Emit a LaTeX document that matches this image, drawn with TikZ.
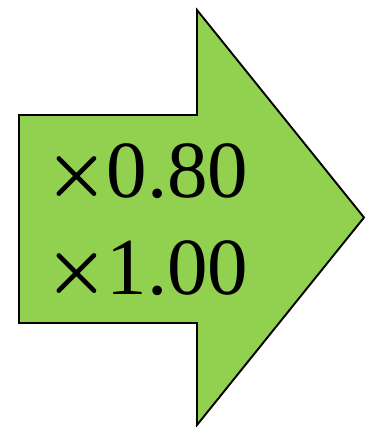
\documentclass[tikz,border=0pt]{standalone}
\usepackage{fontspec}
\setmainfont{Liberation Serif}
\newfontfamily\crossfont[FakeBold=2]{Latin Modern Roman}
\definecolor{arrowgreen}{RGB}{146,208,80}
\newcommand{\timesmark}{{\crossfont\fontsize{84}{84}\selectfont ×}}
\tikzset{
  arrowshape/.style={fill=arrowgreen, draw=black, line width=1.9pt, line join=miter},
  factor/.style={anchor=base west, inner sep=0pt, font=\fontsize{81}{81}\selectfont}
}
\begin{document}
\begin{tikzpicture}[x=1pt,y=-1pt]
\useasboundingbox (0,0) rectangle (365,427);
\draw[arrowshape] (19,115) -- (197,115) -- (197,10) -- (364,217.5) -- (197,425) -- (197,323) -- (19,323) -- cycle;
\node[factor] (f1) at (46,197) {\timesmark0.80};
\node[factor] (f2) at (46,294) {\timesmark1.00};
\end{tikzpicture}
\end{document}
